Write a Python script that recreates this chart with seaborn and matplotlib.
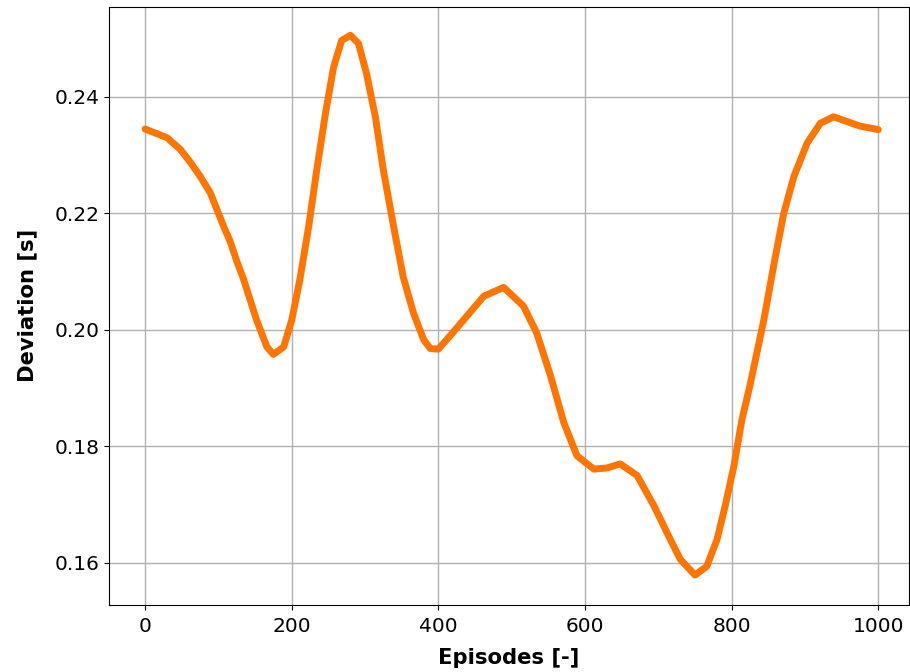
import numpy as np
import pandas as pd
import matplotlib
matplotlib.use("Agg")
import matplotlib.pyplot as plt
import seaborn as sns

# values
episodes = [0, 30, 48, 61, 75, 89, 107, 116, 125, 134, 152, 166, 175, 189,
            200, 211, 223, 234, 246, 257, 268, 280, 291, 302, 314, 325, 339,
            352, 366, 380, 389, 400, 416, 439, 462, 489, 516, 534, 553, 571,
            589, 612, 630, 648, 671, 694, 716, 730, 750, 766, 780, 791, 803,
            814, 825, 844, 858, 871, 885, 903, 921, 939, 957, 975, 1000]
deviation = [0.2345, 0.2330, 0.2310, 0.2289, 0.2264, 0.2235, 0.2178, 0.2152,
             0.2118, 0.2088, 0.2017, 0.1971, 0.1958, 0.1971, 0.2017, 0.2086,
             0.2177, 0.2274, 0.2372, 0.2451, 0.2497, 0.2506, 0.2492, 0.2440,
             0.2366, 0.2274, 0.2177, 0.2091, 0.2029, 0.1983, 0.1968, 0.1967,
             0.1990, 0.2024, 0.2058, 0.2073, 0.2041, 0.1995, 0.1921, 0.1841,
             0.1784, 0.1761, 0.1763, 0.1770, 0.1750, 0.1698, 0.1641, 0.1606,
             0.1579, 0.1594, 0.1640, 0.1697, 0.1766, 0.1846, 0.1905, 0.2018,
             0.2115, 0.2200, 0.2264, 0.2321, 0.2355, 0.2366, 0.2358, 0.2350,
             0.2344]

df = pd.DataFrame({"Episodes": episodes, "Deviation": deviation})

fig, ax = plt.subplots(figsize=(9.1, 6.72), dpi=100)
fig.subplots_adjust(left=0.12, right=0.999, top=0.99, bottom=0.10)

sns.lineplot(data=df, x="Episodes", y="Deviation", ax=ax,
             color="#ff7500", linewidth=5)
ax.lines[0].set_solid_joinstyle("round")
ax.lines[0].set_solid_capstyle("round")

ax.grid(True, color="#b0b0b0", linewidth=1)
ax.set_axisbelow(True)
ax.set_xlim(-49, 1042)
ax.set_ylim(0.1528, 0.2555)
ax.set_xticks([0, 200, 400, 600, 800, 1000])
ax.set_yticks([0.16, 0.18, 0.20, 0.22, 0.24])
ax.set_yticklabels(["0.16", "0.18", "0.20", "0.22", "0.24"])
ax.tick_params(labelsize=14.5)
ax.tick_params(axis="x", pad=5)
ax.set_xlabel("Episodes [-]", fontsize=15.2, fontweight="bold", labelpad=9)
ax.set_ylabel("Deviation [s]", fontsize=15.2, fontweight="bold", labelpad=12)

plt.savefig("out.png", dpi=100)
plt.close()
